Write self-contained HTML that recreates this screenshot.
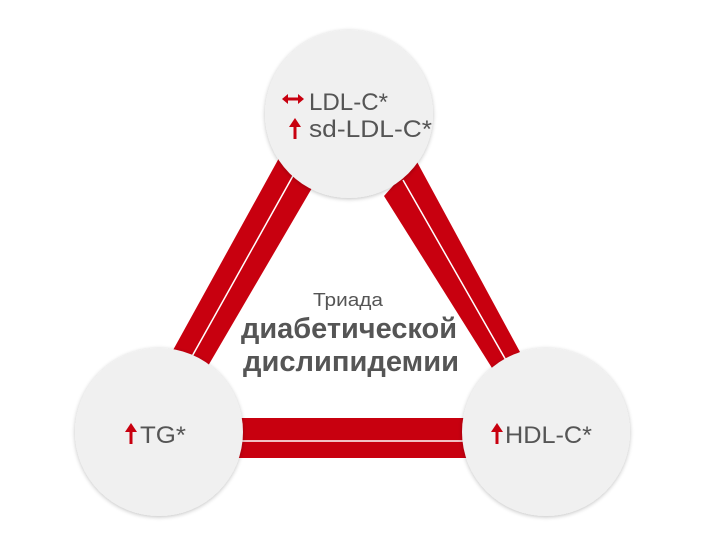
<!DOCTYPE html>
<html><head><meta charset="utf-8"><style>
html,body{margin:0;padding:0;background:#fff;}
svg{display:block;}
text{font-family:"Liberation Sans",sans-serif;fill:#555;}
</style></head><body>
<svg width="708" height="534" viewBox="0 0 708 534">
<defs>
<filter id="sh" x="-20%" y="-20%" width="140%" height="140%">
<feGaussianBlur in="SourceAlpha" stdDeviation="2"/>
<feOffset dx="0" dy="1"/>
<feComponentTransfer><feFuncA type="linear" slope="0.25"/></feComponentTransfer>
<feMerge><feMergeNode/><feMergeNode in="SourceGraphic"/></feMerge>
</filter>
</defs>
<!-- left band -->
<polygon points="279,158 312,188 208,366 172,352" fill="#c8000f"/>
<line x1="294" y1="174" x2="190" y2="360" stroke="#fff" stroke-width="1.5"/>
<!-- right band -->
<polygon points="416,160 520,352 492,368 384,196" fill="#c8000f"/>
<line x1="403" y1="180" x2="507" y2="362" stroke="#fff" stroke-width="1.5"/>
<!-- bottom band -->
<rect x="235" y="418" width="236" height="40" fill="#c8000f"/>
<line x1="235" y1="441" x2="471" y2="441" stroke="#fff" stroke-width="1.5"/>
<!-- circles -->
<circle cx="349" cy="114" r="84" fill="#f0f0f0" filter="url(#sh)"/>
<circle cx="159" cy="432" r="84" fill="#f0f0f0" filter="url(#sh)"/>
<circle cx="546" cy="432" r="84" fill="#f0f0f0" filter="url(#sh)"/>
<!-- top text -->
<g fill="#c8000f" stroke="#c8000f">
<line x1="286" y1="99" x2="300" y2="99" stroke-width="3"/>
<polygon points="282,99 288,94 288,104" stroke="none"/>
<polygon points="304,99 298,94 298,104" stroke="none"/>
<line x1="295" y1="124" x2="295" y2="139" stroke-width="3"/>
<polygon points="295,118 289,127 301,127" stroke="none"/>
<line x1="131" y1="429" x2="131" y2="444" stroke-width="3"/>
<polygon points="131,423 125,432 137,432" stroke="none"/>
<line x1="497" y1="429" x2="497" y2="444" stroke-width="3"/>
<polygon points="497,423 491,432 503,432" stroke="none"/>
</g>
<text x="309" y="110" font-size="24" textLength="79" lengthAdjust="spacingAndGlyphs">LDL-C*</text>
<text x="309" y="137" font-size="24" textLength="123" lengthAdjust="spacingAndGlyphs">sd-LDL-C*</text>
<text x="140" y="443" font-size="24" textLength="46" lengthAdjust="spacingAndGlyphs">TG*</text>
<text x="505" y="443" font-size="24" textLength="87" lengthAdjust="spacingAndGlyphs">HDL-C*</text>
<text x="313" y="306" font-size="18" textLength="70" lengthAdjust="spacingAndGlyphs">Триада</text>
<text x="241" y="338" font-size="29" font-weight="bold" textLength="216" lengthAdjust="spacingAndGlyphs">диабетической</text>
<text x="243" y="371" font-size="29" font-weight="bold" textLength="216" lengthAdjust="spacingAndGlyphs">дислипидемии</text>
</svg>
</body></html>
